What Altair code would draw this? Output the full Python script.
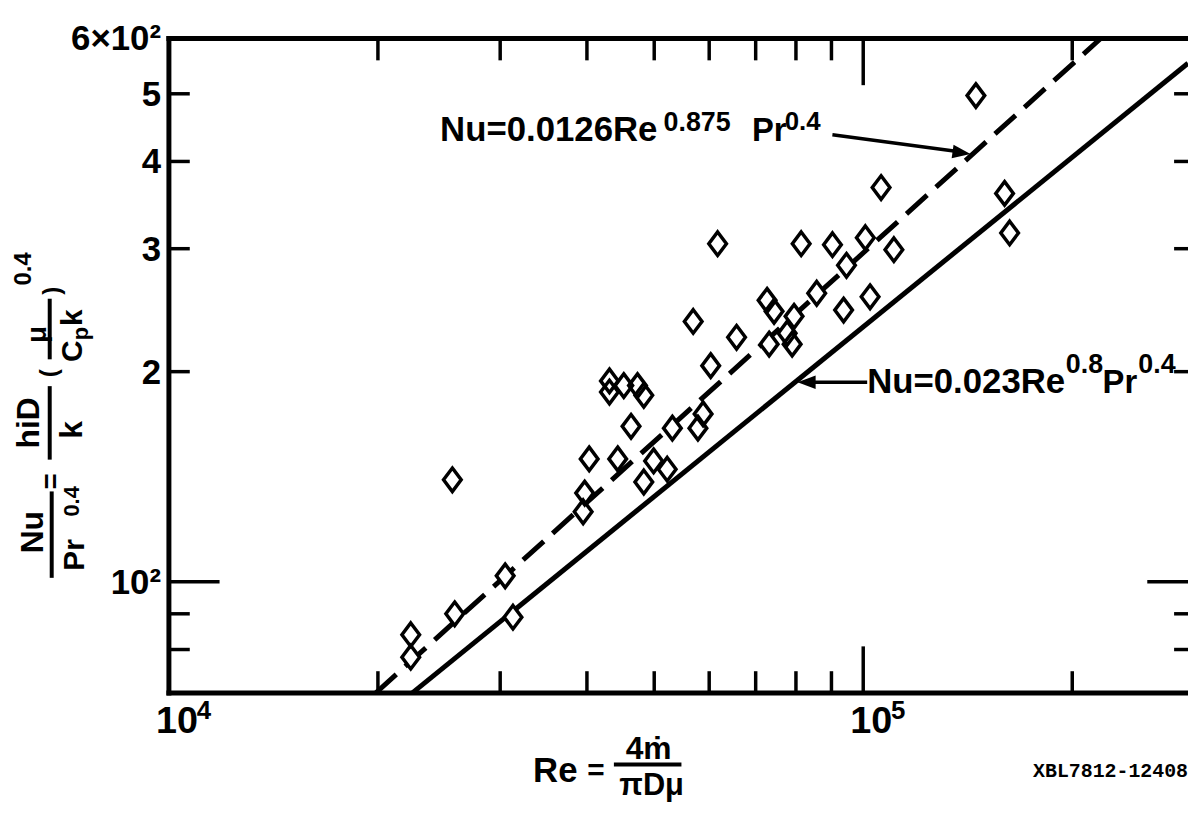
import altair as alt
import pandas as pd

# ---------------- data ----------------
re_vals = [145300, 159800, 162500, 106100, 100700, 110700, 61700, 81400, 90300, 94600,
           85700, 102300, 93700, 72700, 74400, 79500, 77700, 73200, 79000, 65700,
           56900, 60300, 58800, 57800, 53100, 46300, 43100, 43100, 45200, 47300,
           48300, 40300, 44300, 49900, 52200, 48300, 39700, 39500, 25600, 30500,
           25800, 31300, 22300, 22300]
nu_vals = [497, 360, 316, 367, 311, 299, 305, 305, 304, 284,
           259, 256, 245, 253, 244, 240, 227, 219, 219, 224,
           236, 204, 174, 166, 166, 167, 194, 187, 191, 191,
           185, 150, 150, 149, 145, 139, 134, 126, 140, 102,
           90, 89, 84, 78]

# Nu = 0.023 Re^0.8 Pr^0.4 (solid) and Nu = 0.0126 Re^0.875 Pr^0.4 (dashed): end points
solid_re = [22400, 293600]
solid_nu = [69.3, 553]
dash_re = [19850, 219800]
dash_nu = [69.3, 600]

x_minor = [20000, 30000, 40000, 50000, 60000, 70000, 80000, 90000, 200000]
x_major = [100000]
y_minor_left = [80, 90, 200, 300, 400, 500]
y_minor_right = [80, 90, 200, 300, 400, 500]
y_major = [100]

x_label_vals = [10000, 100000]
x_label_base = ["10", "10"]
x_label_exp = ["4", "5"]
y_label_vals = [100, 200, 300, 400, 500, 600]
y_label_text = ["10\u00b2", "2", "3", "4", "5", "6\u00d710\u00b2"]

# ---------------- layout ----------------
W, H = 1026, 659
X_DOM = [10000, 293600]
Y_DOM = [69.3, 600]
FONT = "Liberation Sans"
INK = "black"

xs = alt.Scale(type="log", domain=X_DOM, nice=False)
ys = alt.Scale(type="log", domain=Y_DOM, nice=False)

pts = pd.DataFrame({"Re": re_vals, "Nu": nu_vals})
solid = pd.DataFrame({"Re": solid_re, "Nu": solid_nu})
dashed = pd.DataFrame({"Re": dash_re, "Nu": dash_nu})
xlab = pd.DataFrame({"Re": x_label_vals, "base": x_label_base, "exp": x_label_exp})
ylab = pd.DataFrame({"Nu": y_label_vals, "lab": y_label_text})

DIAMOND = "M0,-1L0.75,0L0,1L-0.75,0Z"

layers = []

# frame (left, top, bottom)
def hrule(yv, x1, x2, w=5):
    return alt.Chart(pd.DataFrame({"k": [0]})).mark_rule(color=INK, strokeWidth=w, strokeCap="square").encode(
        x=alt.value(x1), x2=alt.value(x2), y=alt.value(yv))

def vrule(xv, y1, y2, w=5):
    return alt.Chart(pd.DataFrame({"k": [0]})).mark_rule(color=INK, strokeWidth=w, strokeCap="square").encode(
        x=alt.value(xv), y=alt.value(y1), y2=alt.value(y2))

layers += [vrule(0, 0, H), hrule(0, 0, W), hrule(H, 0, W)]

# inward ticks
def xticks(vals, y1, y2):
    return alt.Chart(pd.DataFrame({"Re": vals})).mark_rule(color=INK, strokeWidth=3.5).encode(
        x=alt.X("Re:Q", scale=xs, axis=None), y=alt.value(y1), y2=alt.value(y2))

def yticks(vals, x1, x2):
    return alt.Chart(pd.DataFrame({"Nu": vals})).mark_rule(color=INK, strokeWidth=3.5).encode(
        y=alt.Y("Nu:Q", scale=ys, axis=None), x=alt.value(x1), x2=alt.value(x2))

layers += [
    xticks(x_minor, H, H - 22), xticks(x_major, H, H - 47),
    xticks(x_minor, 0, 22), xticks(x_major, 0, 47),
    yticks(y_minor_left, 0, 21), yticks(y_major, 0, 51),
    yticks(y_minor_right, W - 14, W), yticks(y_major, W - 41, W),
]

# tick labels
layers.append(alt.Chart(xlab).mark_text(font=FONT, fontSize=38, fontWeight="bold", color=INK,
                                        align="left", baseline="top", dx=-13).encode(
    x=alt.X("Re:Q", scale=xs, axis=None), y=alt.value(H + 10), text="base:N"))
layers.append(alt.Chart(xlab).mark_text(font=FONT, fontSize=26, fontWeight="bold", color=INK,
                                        align="left", baseline="top", dx=28).encode(
    x=alt.X("Re:Q", scale=xs, axis=None), y=alt.value(H + 5), text="exp:N"))
layers.append(alt.Chart(ylab).mark_text(font=FONT, fontSize=35, fontWeight="bold", color=INK,
                                        align="right", baseline="middle", dy=1).encode(
    y=alt.Y("Nu:Q", scale=ys, axis=None), x=alt.value(-8), text="lab:N"))

# correlation lines
layers.append(alt.Chart(solid).mark_line(color=INK, strokeWidth=5, clip=True).encode(
    x=alt.X("Re:Q", scale=xs, axis=None), y=alt.Y("Nu:Q", scale=ys, axis=None)))
layers.append(alt.Chart(dashed).mark_line(color=INK, strokeWidth=5, strokeDash=[28, 12], clip=True).encode(
    x=alt.X("Re:Q", scale=xs, axis=None), y=alt.Y("Nu:Q", scale=ys, axis=None)))

# diamonds: white knock-out then outline
layers.append(alt.Chart(pts).mark_point(shape=DIAMOND, filled=True, color="white", size=560,
                                        strokeWidth=0, opacity=1).encode(
    x=alt.X("Re:Q", scale=xs, axis=None), y=alt.Y("Nu:Q", scale=ys, axis=None)))
layers.append(alt.Chart(pts).mark_point(shape=DIAMOND, filled=False, color=INK, size=560,
                                        strokeWidth=3.5, opacity=1).encode(
    x=alt.X("Re:Q", scale=xs, axis=None), y=alt.Y("Nu:Q", scale=ys, axis=None)))

# arrows
def seg(x1, y1, x2, y2, w=3.5):
    return alt.Chart(pd.DataFrame({"k": [0]})).mark_rule(color=INK, strokeWidth=w).encode(
        x=alt.value(x1), y=alt.value(y1), x2=alt.value(x2), y2=alt.value(y2))

def head(xv, yv, ang, path="M1,0L-1,-0.75L-1,0.75Z", size=330):
    return alt.Chart(pd.DataFrame({"k": [0]})).mark_point(shape=path, filled=True, color=INK,
                                                         size=size, opacity=1, angle=ang).encode(
        x=alt.value(xv), y=alt.value(yv))

layers += [seg(668, 97, 796, 114), head(798, 115, 8)]
layers += [seg(703, 346, 645, 346), head(642, 346, 0, path="M-1,0L1,-0.75L1,0.75Z")]

# text pieces
def txt(s, xv, yv, fs, align="left", baseline="alphabetic", angle=0, font=FONT, weight="bold"):
    return alt.Chart(pd.DataFrame({"k": [0]})).mark_text(
        text=s, font=font, fontSize=fs, fontWeight=weight, color=INK,
        align=align, baseline=baseline, angle=angle).encode(x=alt.value(xv), y=alt.value(yv))

# upper equation
layers += [txt("Nu=0.0126Re", 273, 103, 35), txt("0.875", 498, 93, 27),
           txt("Pr", 587, 103, 33), txt("0.4", 620, 92, 26)]
# lower equation
layers += [txt("Nu=0.023Re", 703, 357, 35), txt("0.8", 903, 337, 27),
           txt("Pr", 940, 357, 33), txt("0.4", 976, 337, 27)]

# x-axis title  Re = 4m'/(pi D mu)
layers += [txt("Re", 389, 749, 35, align="center"),
           txt("=", 430, 738, 30, align="center", baseline="middle"),
           txt("4\u1e41", 483, 725, 32, align="center"),
           hrule(731, 450, 514, w=4),
           txt("\u03c0D\u03bc", 486, 762, 31, align="center")]

# y-axis title  Nu/Pr^0.4 = h_iD/k (mu/C_p k)^0.4  (rotated)
R = dict(align="center", baseline="middle", angle=270)
layers += [txt("Nu", -137, 497, 32, **R), txt("Pr", -94, 520, 30, **R), txt("0.4", -98, 466, 22, **R),
           vrule(-118, 458, 541, w=4),
           txt("=", -118, 446, 28, **R),
           txt("hiD", -141, 387, 32, **R), vrule(-120, 352, 422, w=4), txt("k", -97, 394, 32, **R),
           txt("(", -120, 337, 24, **R),
           txt("\u03bc", -132, 298, 28, **R), vrule(-120, 264, 321, w=4),
           txt("C", -97, 315, 30, **R), txt("p", -88, 297, 22, **R), txt("k", -97, 281, 30, **R),
           txt(")", -117, 254, 24, **R), txt("0.4", -146, 232, 24, **R)]

# figure id
layers.append(txt("XBL7812-12408", 870, 744, 20, font="Liberation Mono"))

chart = alt.layer(*layers).properties(
    width=W, height=H,
    padding={"left": 162, "top": 28, "right": 0, "bottom": 110},
    autosize=alt.AutoSizeParams(type="none"),
    background="white",
).configure_view(stroke=None)

chart.save("out.html", embed_options={"renderer": "svg", "actions": False})
